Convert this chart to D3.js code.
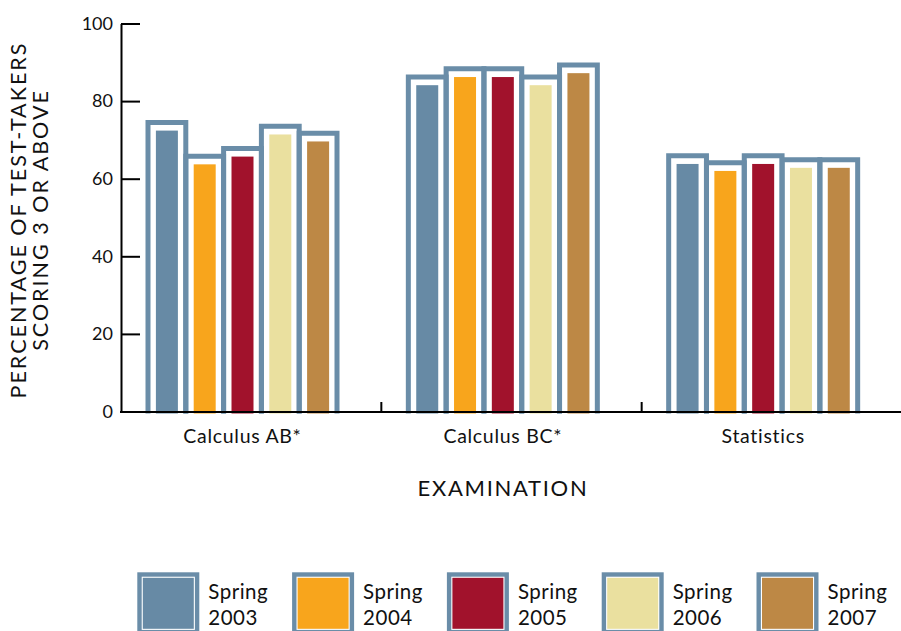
<!DOCTYPE html>
<html>
<head>
<meta charset="utf-8">
<script src="https://cdn.jsdelivr.net/npm/d3@7"></script>
<style>
  html, body { margin: 0; padding: 0; background: #fff; }
  svg { display: block; font-family: Lato, "Open Sans", sans-serif; }
</style>
</head>
<body>
<svg id="chart" width="901" height="631"></svg>
<script>
// ---- data ----
const categories = ["Calculus AB*", "Calculus BC*", "Statistics"];
const seriesNames = ["Spring 2003", "Spring 2004", "Spring 2005", "Spring 2006", "Spring 2007"];
const values2003 = [72.4, 84.1, 63.8];
const values2004 = [63.7, 86.2, 62.0];
const values2005 = [65.7, 86.2, 63.8];
const values2006 = [71.4, 84.1, 62.8];
const values2007 = [69.6, 87.2, 62.8];
const yTicks = [0, 20, 40, 60, 80, 100];
const seriesColors = ["#678aa5", "#f8a51c", "#a1122c", "#eae09f", "#bd8845"];
const frameColor = "#6a8da8";

const seriesValues = [values2003, values2004, values2005, values2006, values2007];

const svg = d3.select("#chart");

// ---- scales ----
const y = d3.scaleLinear().domain([0, 100]).range([411.5, 23.5]);
const x0 = d3.scaleBand().domain(categories).range([121, 902]);
const x1 = d3.scaleBand().domain(seriesNames).range([27, 216]);
const color = d3.scaleOrdinal().domain(seriesNames).range(seriesColors);

const barW = 22;
const pad = 8.2;   // distance from bar top to frame stroke centre
const frameStroke = 5;

// ---- bars ----
const groups = svg.append("g").selectAll("g")
  .data(categories)
  .join("g")
  .attr("transform", d => `translate(${x0(d)},0)`);

const items = (ci) => seriesNames.map((s, si) => ({ series: s, value: seriesValues[si][ci] }));

// white fills first
groups.each(function (cat, ci) {
  const g = d3.select(this);
  g.selectAll("rect.bg").data(items(ci)).join("rect")
    .attr("class", "bg")
    .attr("x", d => x1(d.series))
    .attr("width", x1.bandwidth())
    .attr("y", d => y(d.value) - pad)
    .attr("height", d => y(0) + 2 - (y(d.value) - pad))
    .attr("fill", "#fff");
});
// frames
groups.each(function (cat, ci) {
  const g = d3.select(this);
  g.selectAll("path.frame").data(items(ci)).join("path")
    .attr("class", "frame")
    .attr("fill", "none")
    .attr("stroke", frameColor)
    .attr("stroke-width", frameStroke)
    .attr("stroke-linejoin", "miter")
    .attr("d", d => {
      const l = x1(d.series), r = l + x1.bandwidth(), t = y(d.value) - pad, b = y(0) + 2;
      return `M${l},${b}V${t}H${r}V${b}`;
    });
});
// coloured bars
groups.each(function (cat, ci) {
  const g = d3.select(this);
  g.selectAll("rect.bar").data(items(ci)).join("rect")
    .attr("class", "bar")
    .attr("x", d => x1(d.series) + (x1.bandwidth() - barW) / 2)
    .attr("width", barW)
    .attr("y", d => y(d.value))
    .attr("height", d => y(0) + 2 - y(d.value))
    .attr("fill", d => color(d.series));
});

// ---- y axis ----
const yAxis = d3.axisLeft(y).tickValues(yTicks).tickSizeInner(-19).tickSizeOuter(0).tickPadding(8);
const yg = svg.append("g").attr("transform", "translate(121,0)").call(yAxis);
yg.select(".domain").attr("stroke", "#000").attr("stroke-width", 2);
yg.selectAll(".tick line").attr("stroke", "#000").attr("stroke-width", 2);
yg.selectAll(".tick text").attr("font-size", 18).attr("fill", "#111")
  .attr("font-family", "Lato, sans-serif");

// ---- x axis ----
svg.append("line")
  .attr("x1", 120).attr("x2", 901)
  .attr("y1", 412).attr("y2", 412)
  .attr("stroke", "#000").attr("stroke-width", 2);
svg.append("g").selectAll("line")
  .data(categories.slice(1))
  .join("line")
  .attr("x1", d => x0(d)).attr("x2", d => x0(d))
  .attr("y1", 402).attr("y2", 412)
  .attr("stroke", "#000").attr("stroke-width", 2);
svg.append("g").selectAll("text")
  .data(categories)
  .join("text")
  .attr("x", d => x0(d) + (x1.range()[0] + x1.range()[1]) / 2)
  .attr("y", 443)
  .attr("text-anchor", "middle")
  .attr("font-size", 19.5)
  .attr("letter-spacing", 0.7)
  .attr("fill", "#111")
  .text(d => d);

// ---- axis titles ----
svg.append("text")
  .attr("x", 503).attr("y", 496)
  .attr("text-anchor", "middle")
  .attr("font-size", 22)
  .attr("letter-spacing", 1.7)
  .attr("fill", "#111")
  .text("EXAMINATION");

const yt = svg.append("text")
  .attr("transform", "translate(26,220) rotate(-90)")
  .attr("text-anchor", "middle")
  .attr("font-size", 21.5)
  .attr("letter-spacing", 2.0)
  .attr("fill", "#111");
yt.append("tspan").attr("x", 0).attr("y", 0).text("PERCENTAGE OF TEST-TAKERS");
yt.append("tspan").attr("x", 0).attr("y", 22).text("SCORING 3 OR ABOVE");

// ---- legend ----
const legend = svg.append("g").selectAll("g")
  .data(seriesNames)
  .join("g")
  .attr("transform", (d, i) => `translate(${137.3 + i * 154.8},572.3)`);
legend.append("rect")
  .attr("x", 2.2).attr("y", 2.2).attr("width", 57.6).attr("height", 57.6)
  .attr("fill", "#fff").attr("stroke", frameColor).attr("stroke-width", 4.4);
legend.append("rect")
  .attr("x", 5.5).attr("y", 5.5).attr("width", 51).attr("height", 51)
  .attr("fill", d => color(d));
const lt = legend.append("text")
  .attr("font-size", 20.5).attr("letter-spacing", 0.5).attr("fill", "#111");
lt.append("tspan").attr("x", 71).attr("y", 27).text(d => d.split(" ")[0]);
lt.append("tspan").attr("x", 71).attr("y", 53).text(d => d.split(" ")[1]);
</script>
</body>
</html>
